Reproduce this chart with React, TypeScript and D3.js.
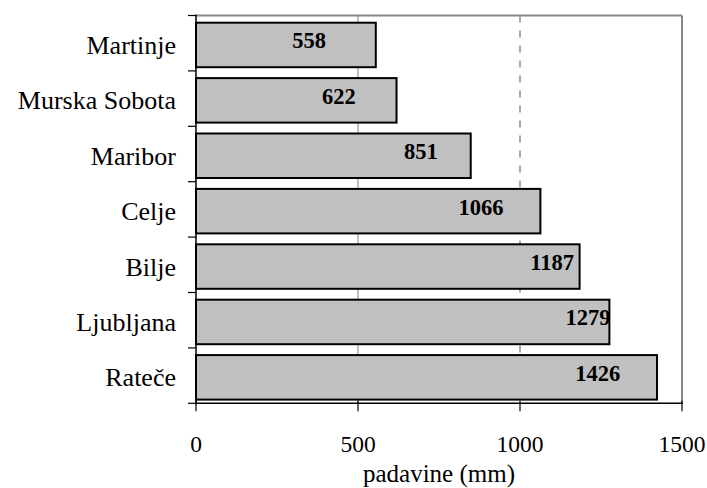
import React from "react";
import * as d3 from "d3";

const categories = ["Martinje", "Murska Sobota", "Maribor", "Celje", "Bilje", "Ljubljana", "Rateče"];
const values = [558, 622, 851, 1066, 1187, 1279, 1426];
// horizontal centre of each value label, in axis units (mm)
const labelAt = [349, 441, 694, 880, 1099, 1210, 1240];
const xTicks = [0, 500, 1000, 1500];
const xTitle = "padavine (mm)";

const W = 707;
const H = 488;
const left = 196;
const right = 682;
const top = 15.5;
const bottom = 403.3;
const serif = "'Liberation Serif', 'Times New Roman', serif";

export default function App() {
  const x = d3.scaleLinear().domain([0, 1500]).range([left, right]);
  const y = d3.scaleBand<string>().domain(categories).range([top, bottom]).padding(0);
  const bw = y.bandwidth();

  return (
    <svg width={W} height={H} style={{ position: "absolute", left: 0, top: 0, background: "#fff" }}>
      {/* gridlines */}
      <line x1={x(500)} x2={x(500)} y1={top} y2={bottom} stroke="#808080" strokeWidth={1} />
      <line x1={x(1000)} x2={x(1000)} y1={top} y2={bottom} stroke="#555" strokeWidth={1} strokeDasharray="7,8" />
      {/* frame top/right */}
      <line x1={left} x2={right} y1={top} y2={top} stroke="#888" strokeWidth={2} />
      <line x1={right} x2={right} y1={top} y2={bottom} stroke="#888" strokeWidth={2} />
      {/* bars */}
      {categories.map((c, i) => (
        <rect
          key={c}
          x={x(0)}
          y={(y(c) as number) + 7.2}
          width={x(values[i]) - x(0) - 1}
          height={44.5}
          fill="#c0c0c0"
          stroke="#000"
          strokeWidth={2}
        />
      ))}
      {/* value labels */}
      {categories.map((c, i) => (
        <text
          key={"l" + c}
          x={x(labelAt[i])}
          y={(y(c) as number) + 7.2 + 22.25 + 3.5}
          textAnchor="middle"
          fontFamily={serif}
          fontWeight="bold"
          fontSize={22.5}
          fill="#000"
        >
          {values[i]}
        </text>
      ))}
      {/* axes */}
      <line x1={left} x2={left} y1={top - 1} y2={bottom + 1} stroke="#000" strokeWidth={1.5} />
      <line x1={left} x2={right + 1} y1={bottom} y2={bottom} stroke="#000" strokeWidth={1.5} />
      {d3.range(categories.length + 1).map((k) => (
        <line key={"yt" + k} x1={left - 8} x2={left} y1={top + k * bw} y2={top + k * bw} stroke="#000" strokeWidth={1.2} />
      ))}
      {xTicks.map((t) => (
        <line key={"xt" + t} x1={x(t)} x2={x(t)} y1={bottom - 2.5} y2={bottom + 8} stroke="#000" strokeWidth={1.2} />
      ))}
      {/* category labels */}
      {categories.map((c) => (
        <text
          key={"c" + c}
          x={176}
          y={(y(c) as number) + 7.2 + 22.25 + 9}
          textAnchor="end"
          fontFamily={serif}
          fontSize={26}
          fill="#000"
        >
          {c}
        </text>
      ))}
      {/* x tick labels */}
      {xTicks.map((t) => (
        <text key={"xl" + t} x={x(t)} y={452} textAnchor="middle" fontFamily={serif} fontSize={23.5} fill="#000">
          {t}
        </text>
      ))}
      <text x={(left + right) / 2} y={481.5} textAnchor="middle" fontFamily={serif} fontSize={25} fill="#000">
        {xTitle}
      </text>
    </svg>
  );
}
